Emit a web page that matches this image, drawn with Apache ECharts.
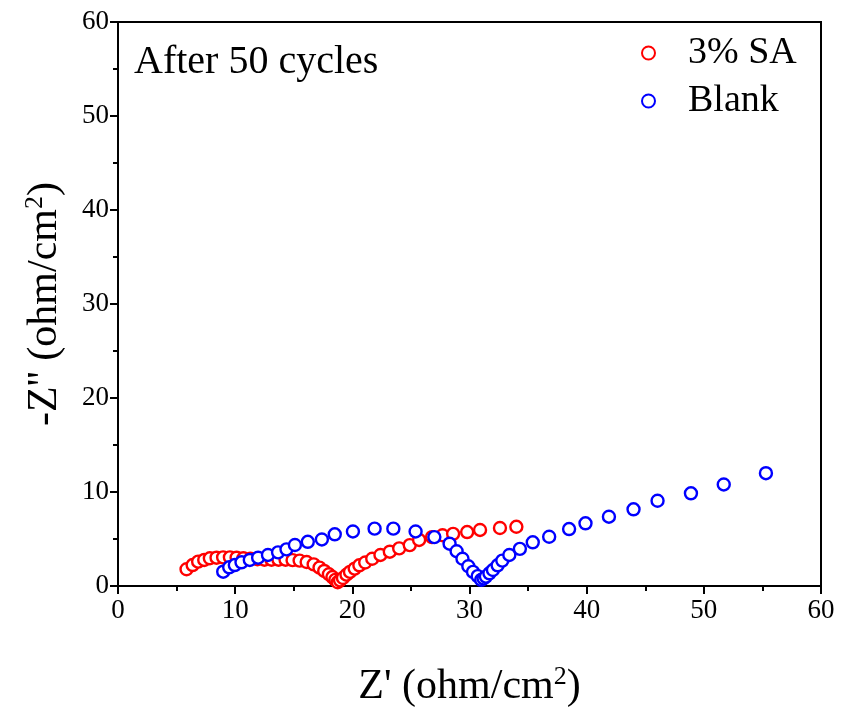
<!DOCTYPE html>
<html>
<head>
<meta charset="utf-8">
<script src="https://cdn.jsdelivr.net/npm/echarts@6/dist/echarts.min.js"></script>
<style>html,body{margin:0;padding:0;background:#fff}#c{width:842px;height:711px}</style>
</head>
<body>
<div id="c"></div>
<script>
var saX = [5.85,6.37,6.84,7.36,7.84,8.41,8.97,9.55,10.12,10.7,11.3,11.9,12.5,13.1,13.7,14.3,14.9,15.5,16.1,16.7,17.2,17.6,18.0,18.3,18.55,18.75,18.95,19.2,19.5,19.8,20.2,20.6,21.1,21.7,22.4,23.2,24.0,24.9,25.7,26.8,27.7,28.6,29.8,30.9,32.6,34.0];
var saY = [1.78,2.23,2.59,2.77,2.95,3.01,3.05,3.05,3.01,2.95,2.9,2.85,2.8,2.8,2.8,2.8,2.75,2.7,2.55,2.3,1.95,1.6,1.25,0.95,0.65,0.4,0.6,0.85,1.2,1.5,1.85,2.2,2.5,2.9,3.3,3.65,4.0,4.35,4.9,5.2,5.4,5.55,5.74,5.96,6.17,6.3];
var blankX = [8.98,9.49,9.97,10.54,11.25,11.96,12.8,13.66,14.38,15.1,16.2,17.4,18.5,20.05,21.9,23.5,25.4,27.0,28.3,28.9,29.4,29.9,30.3,30.7,31.0,31.2,31.4,31.7,32.0,32.4,32.8,33.4,34.3,35.4,36.8,38.5,39.9,41.9,44.0,46.05,48.9,51.7,55.3];
var blankY = [1.52,1.99,2.23,2.52,2.77,3.01,3.3,3.58,3.9,4.36,4.7,4.95,5.5,5.8,6.1,6.1,5.8,5.2,4.5,3.7,2.9,2.1,1.5,1.05,0.65,0.8,1.0,1.35,1.7,2.2,2.7,3.3,3.95,4.65,5.24,6.06,6.67,7.37,8.16,9.07,9.86,10.8,12.0];
var seriesNames = ['3% SA','Blank'];
var xTitle = "Z' (ohm/cm";
var yTitle = "-Z'' (ohm/cm";
var annotation = 'After 50 cycles';

function pairs(xs, ys){ return xs.map(function(x,i){return [x, ys[i]];}); }
var font = 'Liberation Serif';
var chart = echarts.init(document.getElementById('c'));
function axisCommon(){ return {
  min: 0, max: 60, interval: 10,
  axisLine: {show: true, onZero: false, lineStyle: {color: '#000', width: 2}},
  axisTick: {show: true, inside: false, length: 8, lineStyle: {color: '#000', width: 2}},
  minorTick: {show: true, splitNumber: 2, length: 5, lineStyle: {color: '#000', width: 2}},
  splitLine: {show: false},
  axisLabel: {color: '#000', fontFamily: font, fontSize: 27, margin: 11},
  nameLocation: 'middle',
  nameTextStyle: {color: '#000', fontFamily: font, fontSize: 42,
    rich: {
      b: {fontFamily: font, fontSize: 42, color: '#000'},
      sup: {fontFamily: font, fontSize: 26, color: '#000', padding: [0,0,20,0]}
    }}
};}
var xa = axisCommon(); xa.type = 'value'; xa.name = '{b|' + xTitle + '}{sup|2}{b|)}'; xa.nameGap = 78;
var ya = axisCommon(); ya.type = 'value'; ya.name = '{b|' + yTitle + '}{sup|2}{b|)}'; ya.nameGap = 50; ya.nameRotate = 90;
ya.axisLabel.margin = 9;
chart.setOption({
  animation: false,
  backgroundColor: '#fff',
  grid: {left: 118, right: 21, top: 22, bottom: 125, containLabel: false, outerBoundsMode: 'none', show: true, borderColor: '#000', borderWidth: 2, backgroundColor: 'transparent'},
  title: {text: annotation, left: 129, top: 37, textStyle: {fontFamily: font, fontSize: 40, fontWeight: 'normal', color: '#000'}},
  legend: {
    orient: 'vertical', left: 636, top: 29, itemGap: 10, itemWidth: 13, itemHeight: 13,
    textStyle: {fontFamily: font, fontSize: 38, color: '#000', padding: [0,0,0,28]},
    data: seriesNames
  },
  xAxis: xa,
  yAxis: ya,
  series: [
    {name: seriesNames[0], type: 'scatter', symbol: 'circle', symbolSize: 12, data: pairs(saX, saY),
      itemStyle: {color: '#fff', borderColor: '#ff0000', borderWidth: 2.4, opacity: 1}},
    {name: seriesNames[1], type: 'scatter', symbol: 'circle', symbolSize: 12, data: pairs(blankX, blankY),
      itemStyle: {color: '#fff', borderColor: '#0000ff', borderWidth: 2.4, opacity: 1}}
  ]
});
</script>
</body>
</html>
